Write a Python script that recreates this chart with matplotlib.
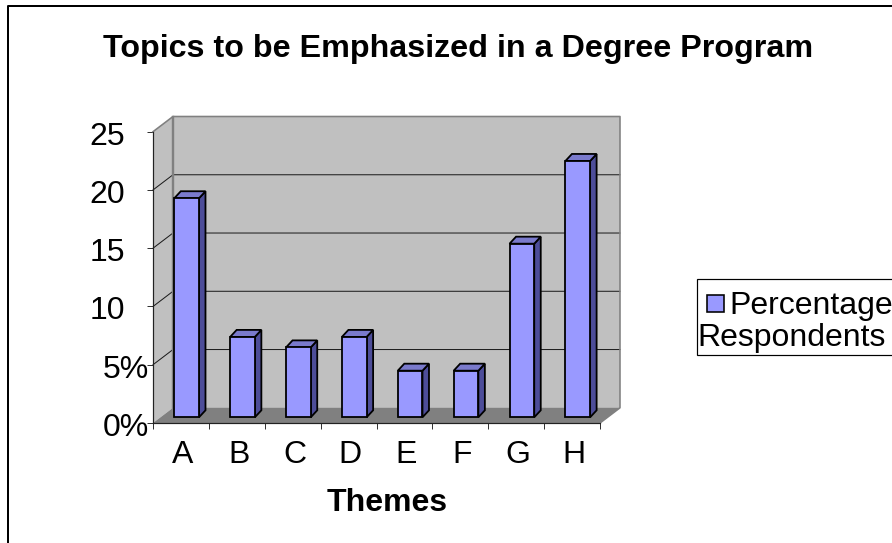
"""Bar chart of the topics respondents want emphasized, in a pseudo-3D box."""

import matplotlib
matplotlib.use("Agg")
import matplotlib.pyplot as plt
from matplotlib.patches import Polygon

themes = ['A', 'B', 'C', 'D', 'E', 'F', 'G', 'H']
percentages = [18.8, 6.9, 6, 6.9, 4, 4, 14.9, 22]
y_ticks = [0, 5, 10, 15, 20, 25]
y_labels = ['0%', '5%', '10', '15', '20', '25']

WALL = '#c0c0c0'
FLOOR = '#808080'
FACE = '#9999ff'
SIDE = '#4d4d99'
TOP = '#7a7acc'
FONT = 32

# dpi of 72 makes one point equal one pixel
W, H = 892, 543
plt.rcParams['font.family'] = ['Liberation Sans', 'DejaVu Sans']
fig = plt.figure(figsize=(W / 72, H / 72), dpi=72)

# front edge of the box: x 153-600, y 131.7-423 in pixels from the top
ax = fig.add_axes([153 / W, 1 - 423 / H, 447 / W, 291.3 / H])
ax.set_xlim(0, len(themes))
ax.set_ylim(0, 25)
ax.patch.set_visible(False)

# depth of the box and of the bars, in data units
px_x = 447 / len(themes)
px_y = 291.3 / 25
dx = 20 / px_x
dy = 15.2 / px_y
bar_dx = 5.7 / px_x
bar_dy = 5.7 / px_y
cap_dx = 6.5 / px_x
cap_dy = 7 / px_y
bar_w = 24.7 / px_x
n = len(themes)
ymax = y_ticks[-1]


def poly(pts, **kw):
    ax.add_patch(Polygon(pts, closed=True, clip_on=False, **kw))


# walls and floor
poly([(dx, dy), (n + dx, dy), (n + dx, ymax + dy), (dx, ymax + dy)],
     fc=WALL, ec='none', zorder=1)
poly([(0, 0), (dx, dy), (dx, ymax + dy), (0, ymax)], fc=WALL, ec='none', zorder=1)
poly([(0, 0), (n, 0), (n + dx, dy), (dx, dy)], fc=FLOOR, ec='none', zorder=1)

# gridlines run along the back wall and down the side wall
for v in y_ticks[1:-1]:
    ax.plot([0, dx, n + dx], [v, v + dy, v + dy], color='#1a1a1a', lw=1,
            clip_on=False, zorder=2)

# wall outline
ax.plot([0, dx, n + dx, n + dx, n], [ymax, ymax + dy, ymax + dy, dy, 0],
        color=FLOOR, lw=1.6, clip_on=False, zorder=2)
ax.plot([dx, dx], [dy, ymax + dy], color=FLOOR, lw=2.4, clip_on=False, zorder=2)

# bars, each with a front face, a dark side and a lighter cap
for i, v in enumerate(percentages):
    x0 = i + 0.5 + bar_dx - bar_w / 2
    x1 = x0 + bar_w
    y0 = bar_dy
    y1 = bar_dy + v
    poly([(x1, y0), (x1 + cap_dx, y0 + cap_dy), (x1 + cap_dx, y1 + cap_dy), (x1, y1)],
         fc=SIDE, ec='black', lw=1.8, zorder=3, joinstyle='miter')
    poly([(x0, y1), (x1, y1), (x1 + cap_dx, y1 + cap_dy), (x0 + cap_dx, y1 + cap_dy)],
         fc=TOP, ec='black', lw=1.8, zorder=3, joinstyle='miter')
    ax.bar(i + 0.5 + bar_dx, v, width=bar_w, bottom=bar_dy, color=FACE,
           edgecolor='black', linewidth=1.8, zorder=4, clip_on=False)

# axes
for side in ['top', 'right']:
    ax.spines[side].set_visible(False)
for side in ['left', 'bottom']:
    ax.spines[side].set_linewidth(1.2)
    ax.spines[side].set_color('#222222')
    ax.spines[side].set_zorder(5)
ax.set_xticks(range(n + 1))
ax.set_xticklabels([])
ax.set_yticks(y_ticks)
ax.set_yticklabels([])
ax.tick_params(length=6, width=1, color='#333333')

# the percent labels sit closer to the axis than the plain numbers
for v, lab in zip(y_ticks, y_labels):
    right = -4 if lab.endswith('%') else -28
    ax.annotate(lab, (0, v), xytext=(right, -13), textcoords='offset points',
                ha='right', va='baseline', fontsize=FONT, annotation_clip=False, zorder=6)
for i, lab in enumerate(themes):
    ax.annotate(lab, (i + 0.5, 0), xytext=(1.8, -40), textcoords='offset points',
                ha='center', va='baseline', fontsize=FONT, annotation_clip=False)

fig.text(458.5 / W, 1 - 57 / H, 'Topics to be Emphasized in a Degree Program',
         ha='center', va='baseline', fontsize=32.2, fontweight='bold')
fig.text(387 / W, 1 - 511 / H, 'Themes', ha='center', va='baseline',
         fontsize=FONT, fontweight='bold')

# legend box runs off the right edge of the figure
fig.add_artist(plt.Rectangle((697 / W, 1 - 355 / H), 205 / W, 76 / H, fc='white',
                             ec='black', lw=1.2, transform=fig.transFigure))
fig.add_artist(plt.Rectangle((707 / W, 1 - 312 / H), 17 / W, 17 / H, fc=FACE,
                             ec='black', lw=1.6, transform=fig.transFigure))
fig.text(729 / W, 1 - 314 / H, 'Percentage', ha='left', va='baseline', fontsize=FONT)
fig.text(697 / W, 1 - 346 / H, 'Respondents', ha='left', va='baseline', fontsize=FONT)

# chart frame, only its top and left sides fall inside the figure
fig.add_artist(plt.Line2D([8 / W, 8 / W, 1], [0, 1 - 6 / H, 1 - 6 / H], color='black',
                          lw=2, transform=fig.transFigure))

fig.savefig('out.png', dpi=72)
